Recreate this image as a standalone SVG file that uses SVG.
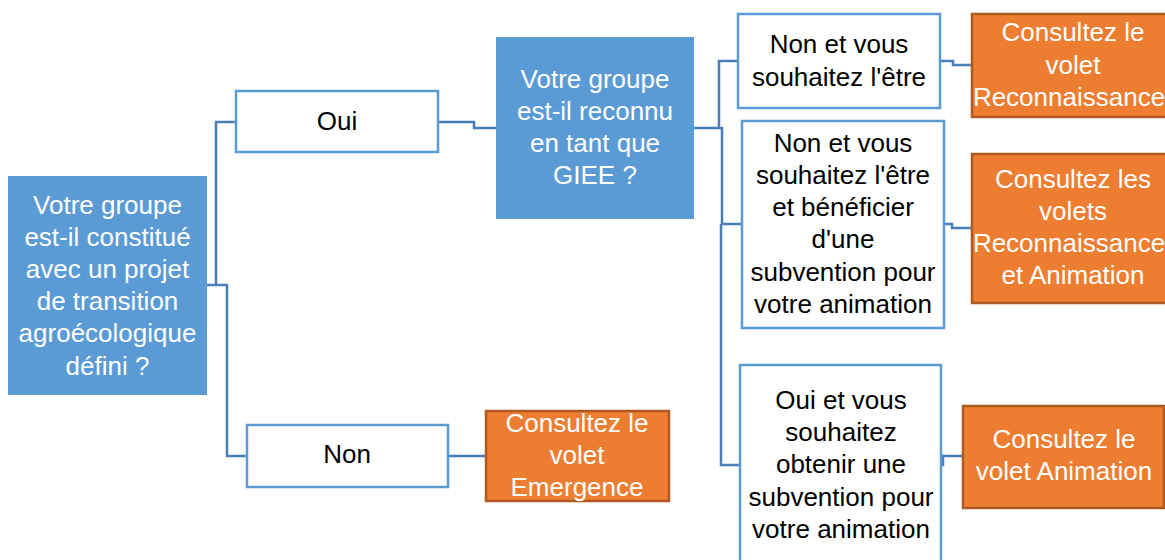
<svg xmlns="http://www.w3.org/2000/svg" width="1165" height="560" viewBox="0 0 1165 560">
<style>
.q{fill:#5B9BD5}
.a{fill:#ffffff;stroke:#5B9BD5;stroke-width:2.5}
.o{fill:#ED7D31;stroke:#AE5A21;stroke-width:2.5}
text{font-family:"Liberation Sans",Arial,sans-serif;font-size:26px;text-anchor:middle}
.w{fill:#ffffff}
.b{fill:#000000}
.c{fill:none;stroke:#4A7EBB;stroke-width:2.5}
</style>
<rect width="1165" height="560" fill="#ffffff"/>
<g id="connectors">
<polyline class="c" points="207,285 227,285 227,456 247,456"/>
<polyline class="c" points="216,285 216,122 236,122"/>
<polyline class="c" points="438,122 474,122 474,128 496,128"/>
<polyline class="c" points="448,456 486,456"/>
<polyline class="c" points="694,128 722,128 722,224 742,224"/>
<polyline class="c" points="719,128 719,61 738,61"/>
<polyline class="c" points="721,224 721,465 740,465"/>
<polyline class="c" points="940,61 953,61 953,65 972,65"/>
<polyline class="c" points="944,224 952,224 952,228 972,228"/>
<polyline class="c" points="941,465 943,465 943,456 963,456"/>
</g>
<g id="q1">
<rect class="q" x="8" y="176" width="199" height="219"/>
<text class="w" x="107.5" y="214">Votre groupe</text>
<text class="w" x="107.5" y="246">est-il constitué</text>
<text class="w" x="107.5" y="278">avec un projet</text>
<text class="w" x="107.5" y="310">de transition</text>
<text class="w" x="107.5" y="342">agroécologique</text>
<text class="w" x="107.5" y="375">défini ?</text>
</g>
<g id="oui">
<rect class="a" x="236" y="91" width="202" height="61"/>
<text class="b" x="337" y="130">Oui</text>
</g>
<g id="non">
<rect class="a" x="247" y="425" width="201" height="62"/>
<text class="b" x="347" y="463">Non</text>
</g>
<g id="emergence">
<rect class="o" x="486" y="411" width="183" height="90"/>
<text class="w" x="577" y="432">Consultez le</text>
<text class="w" x="577" y="464">volet</text>
<text class="w" x="577" y="496">Emergence</text>
</g>
<g id="q2">
<rect class="q" x="496" y="37" width="198" height="182"/>
<text class="w" x="595" y="88">Votre groupe</text>
<text class="w" x="595" y="120">est-il reconnu</text>
<text class="w" x="595" y="152">en tant que</text>
<text class="w" x="595" y="184">GIEE ?</text>
</g>
<g id="a1">
<rect class="a" x="738" y="14" width="202" height="94"/>
<text class="b" x="839" y="53">Non et vous</text>
<text class="b" x="839" y="86">souhaitez l'être</text>
</g>
<g id="a2">
<rect class="a" x="742" y="121" width="202" height="207"/>
<text class="b" x="843" y="152">Non et vous</text>
<text class="b" x="843" y="184">souhaitez l'être</text>
<text class="b" x="843" y="216">et bénéficier</text>
<text class="b" x="843" y="248">d'une</text>
<text class="b" x="843" y="281">subvention pour</text>
<text class="b" x="843" y="313">votre animation</text>
</g>
<g id="a3">
<rect class="a" x="740" y="365" width="201" height="205"/>
<text class="b" x="841" y="409">Oui et vous</text>
<text class="b" x="841" y="441">souhaitez</text>
<text class="b" x="841" y="473">obtenir une</text>
<text class="b" x="841" y="506">subvention pour</text>
<text class="b" x="841" y="538">votre animation</text>
</g>
<g id="r1">
<rect class="o" x="972" y="14" width="202" height="103"/>
<text class="w" x="1073" y="41">Consultez le</text>
<text class="w" x="1073" y="74">volet</text>
<text class="w" x="1069" y="106">Reconnaissance</text>
</g>
<g id="r2">
<rect class="o" x="972" y="154" width="202" height="149"/>
<text class="w" x="1073" y="188">Consultez les</text>
<text class="w" x="1073" y="220">volets</text>
<text class="w" x="1069" y="252">Reconnaissance</text>
<text class="w" x="1073" y="284">et Animation</text>
</g>
<g id="r3">
<rect class="o" x="963" y="406" width="201" height="102"/>
<text class="w" x="1064" y="448">Consultez le</text>
<text class="w" x="1064" y="480">volet Animation</text>
</g>
</svg>
